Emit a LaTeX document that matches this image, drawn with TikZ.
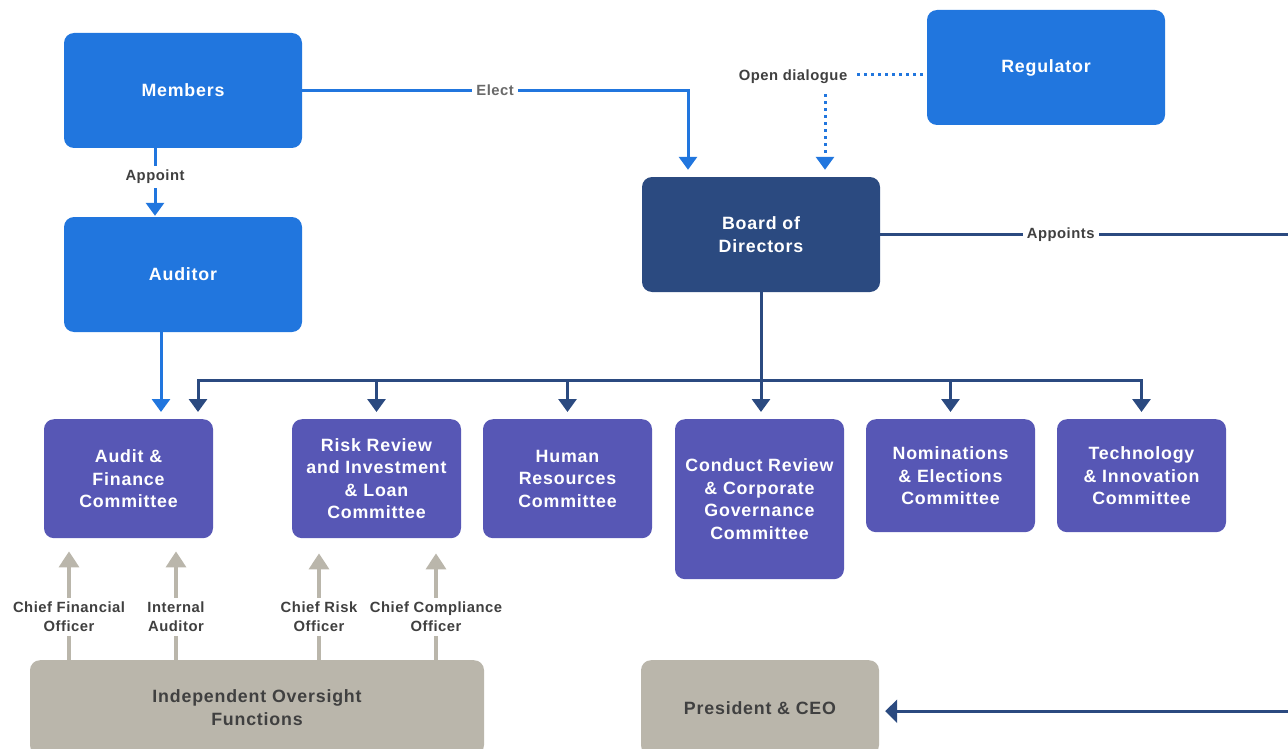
\documentclass[tikz,border=0pt]{standalone}
\usepackage{fontspec}
\setmainfont{Liberation Sans}
\newfontfamily\boxfont{Liberation Sans}[LetterSpace=4.5]
\newfontfamily\lblfont{Liberation Sans}[LetterSpace=3.5]
\usetikzlibrary{arrows.meta}
\definecolor{memberblue}{RGB}{33,118,222}
\definecolor{boardnavy}{RGB}{43,74,128}
\definecolor{commpurple}{RGB}{87,87,181}
\definecolor{oversightgray}{RGB}{186,182,171}
\definecolor{labelgray}{RGB}{64,64,64}
\definecolor{electgray}{RGB}{105,105,105}
\tikzset{
  box/.style={rounded corners=10pt, align=center, inner sep=0pt, text=white,
    font=\boxfont\bfseries\fontsize{17.8}{22.5}\selectfont},
  bluebox/.style={box, fill=memberblue, minimum width=238pt, minimum height=115pt},
  navybox/.style={box, fill=boardnavy, minimum width=238pt, minimum height=115pt},
  commbox/.style={box, fill=commpurple, anchor=north, minimum width=169pt},
  graybox/.style={box, fill=oversightgray, anchor=north, minimum height=95pt, text=labelgray},
  lbl/.style={fill=white, inner sep=4pt, align=center, text=labelgray,
    font=\lblfont\bfseries\fontsize{14.8}{19}\selectfont},
  blueline/.style={draw=memberblue, line width=3pt},
  bluetip/.style={-{Triangle[width=18pt,length=13pt]}, shorten >=7pt},
  bluedot/.style={blueline, dash pattern=on 3pt off 4pt},
  navyline/.style={draw=boardnavy, line width=3pt},
  navytip/.style={-{Triangle[width=18pt,length=13pt]}, shorten >=7pt},
  grayline/.style={draw=oversightgray, line width=3.5pt},
}
\begin{document}
\begin{tikzpicture}[x=1pt,y=-1pt]
  \useasboundingbox (0,0) rectangle (1288,749);
  \node[bluebox] (members) at (183,90.5) {Members};
  \node[bluebox] (auditor) at (183,274.5) {Auditor};
  \node[bluebox] (regulator) at (1046,67.5) {Regulator};
  \node[navybox] (board) at (761,234.5) {Board of\\Directors};
  \node[commbox, minimum height=119pt] (audit) at (128.5,419) {Audit \&\\Finance\\Committee};
  \node[commbox, minimum height=119pt] (risk) at (376.5,419) {Risk Review\\and Investment\\\& Loan\\Committee};
  \node[commbox, minimum height=119pt] (hr) at (567.5,419) {Human\\Resources\\Committee};
  \node[commbox, minimum height=160pt] (conduct) at (759.5,419) {Conduct Review\\\& Corporate\\Governance\\Committee};
  \node[commbox, minimum height=113pt] (nom) at (950.5,419) {Nominations\\\& Elections\\Committee};
  \node[commbox, minimum height=113pt] (tech) at (1141.5,419) {Technology\\\& Innovation\\Committee};
  \node[graybox, minimum width=454pt] (iof) at (257,660) {Independent Oversight\\Functions};
  \node[graybox, minimum width=238pt] (ceo) at (760,660) {President \& CEO};
  \coordinate (bus) at (0,380);
  \coordinate (edge) at (1300,0);
  \draw[blueline, bluetip, shorten >=1pt] ([xshift=-28pt]members.south) -- node[lbl, pos=0.42] {Appoint} ([xshift=-28pt]auditor.north);
  \draw[blueline, bluetip] (members.east) -| node[lbl, pos=0.25, text=electgray] {Elect} ([xshift=-73pt]board.north);
  \draw[blueline, bluetip] ([xshift=-22pt]auditor.south) -- ([xshift=-22pt]auditor.south |- audit.north);
  \node[lbl] (dialogue) at (793,77) {Open dialogue};
  \draw[bluedot, shorten <=6pt] ([yshift=2pt]dialogue.east) -- ([yshift=2pt]dialogue.east -| regulator.west);
  \draw[bluedot, bluetip, shorten <=6pt] ([xshift=32pt]dialogue.south) -- ([xshift=64pt]board.north);
  \draw[navyline, navytip] (board.south) -- (board.south |- conduct.north);
  \draw[navyline, navytip, {Triangle[width=18pt,length=13pt]}-{Triangle[width=18pt,length=13pt]}, shorten <=7pt]
    ([xshift=69.5pt]audit.north) -- ([xshift=69.5pt]audit.north |- bus) -- (tech.north |- bus) -- (tech.north);
  \foreach \c in {risk,hr,nom}
    \draw[navyline, navytip] (\c.north |- bus) -- (\c.north);
  \draw[navyline, -{Triangle[width=23pt,length=12pt]}, shorten >=6pt] (board.east) -- node[lbl, pos=0.43] {Appoints} (board.east -| edge) -- ([yshift=-3.5pt]ceo.east -| edge) -- ([yshift=-3.5pt]ceo.east);
  \node[lbl] (cfo) at (69,617) {Chief Financial\\Officer};
  \node[lbl] (intaud) at (176,617) {Internal\\Auditor};
  \node[lbl] (cro) at (319,617) {Chief Risk\\Officer};
  \node[lbl] (cco) at (436,617) {Chief Compliance\\Officer};
  \foreach \o/\c/\s in {cfo/audit/13pt, intaud/audit/13pt, cro/risk/15pt, cco/risk/15pt} {
    \draw[grayline] (\o.south |- iof.north) -- (\o.south);
    \draw[grayline, -{Triangle[width=20pt,length=16pt]}, shorten >=\s] (\o.north) -- (\o.north |- \c.south);
  }
\end{tikzpicture}
\end{document}
